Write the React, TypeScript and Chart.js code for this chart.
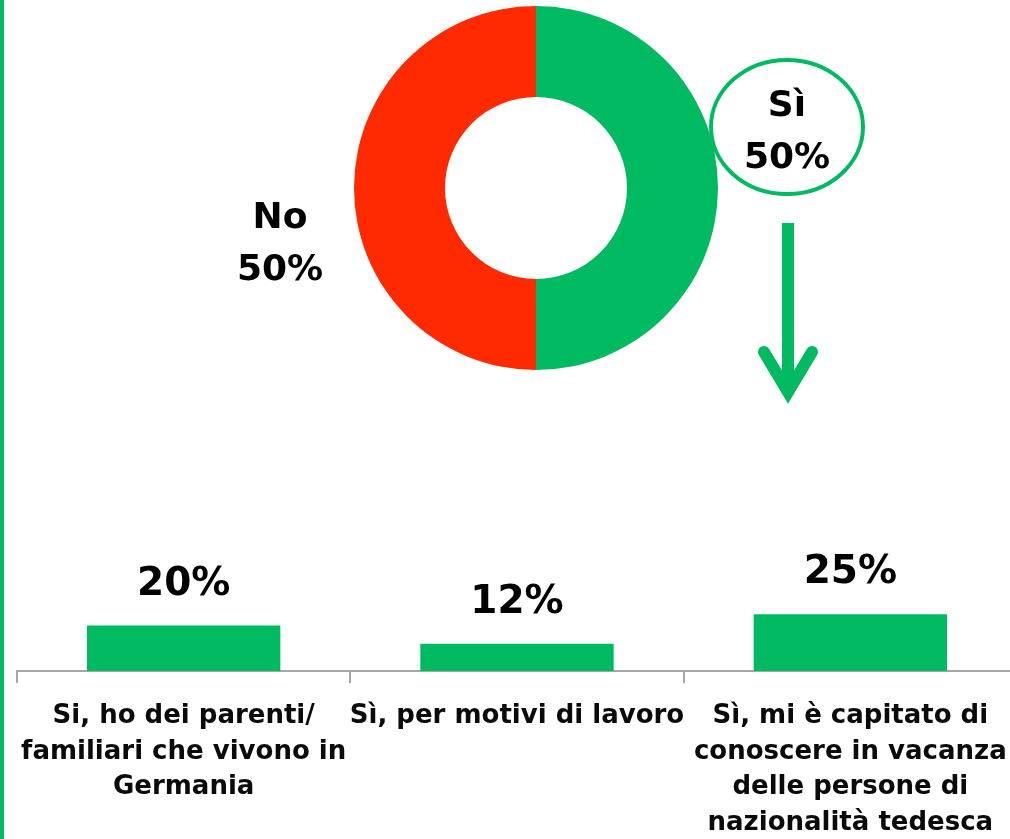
import React, { useEffect, useRef } from "react";
import { Chart, registerables } from "chart.js";

Chart.register(...registerables);

const pieLabels = ["Sì", "No"];
const pieValues = [50, 50];
const barCategories = [
  ["Si, ho dei parenti/", "familiari che vivono in", "Germania"],
  ["Sì, per motivi di lavoro"],
  ["Sì, mi è capitato di", "conoscere in vacanza", "delle persone di", "nazionalità tedesca"],
];
const barValues = [20, 12, 25];

const GREEN = "#00BA61";
const RED = "#FF2A00";
const FONT = "'DejaVu Sans', sans-serif";

export default function App() {
  const pieRef = useRef<HTMLCanvasElement>(null);
  const barRef = useRef<HTMLCanvasElement>(null);

  useEffect(() => {
    const pie = new Chart(pieRef.current!, {
      type: "doughnut",
      data: {
        labels: pieLabels,
        datasets: [
          {
            data: pieValues,
            backgroundColor: [GREEN, RED],
            borderWidth: 0,
          },
        ],
      },
      options: {
        animation: false,
        responsive: false,
        cutout: "50%",
        plugins: { legend: { display: false }, tooltip: { enabled: false } },
        layout: { padding: 0 },
      },
    });

    const labelPlugin = {
      id: "barLabels",
      afterDatasetsDraw(chart: any) {
        const ctx = chart.ctx;
        const meta = chart.getDatasetMeta(0);
        ctx.save();
        ctx.fillStyle = "#000";
        ctx.font = `bold 39px ${FONT}`;
        ctx.textAlign = "center";
        ctx.textBaseline = "middle";
        meta.data.forEach((bar: any, i: number) => {
          ctx.fillText(barValues[i] + "%", bar.x, bar.y - 41);
        });
        ctx.restore();
      },
    };

    const bar = new Chart(barRef.current!, {
      type: "bar",
      data: {
        labels: barCategories,
        datasets: [
          {
            data: barValues,
            backgroundColor: GREEN,
            borderWidth: 0,
            categoryPercentage: 1,
            barPercentage: 0.58,
          },
        ],
      },
      options: {
        animation: false,
        responsive: false,
        layout: { padding: { left: 17, right: 13, top: 44, bottom: 0 } },
        plugins: { legend: { display: false }, tooltip: { enabled: false } },
        scales: {
          y: { display: false, min: 0, max: 100 },
          x: {
            afterFit: (s: any) => {
              s.height = 168;
            },
            border: { display: true, color: "#a6a6a6", width: 2 },
            grid: {
              display: true,
              drawOnChartArea: false,
              drawTicks: true,
              tickLength: 12,
              color: "#a6a6a6",
              lineWidth: 2,
              offset: true,
            },
            ticks: {
              color: "#0a0a0a",
              padding: 16,
              maxRotation: 0,
              autoSkip: false,
              font: { family: FONT, size: 26, weight: "bold", lineHeight: 1.36 },
            },
          },
        },
      },
      plugins: [labelPlugin],
    });

    return () => {
      pie.destroy();
      bar.destroy();
    };
  }, []);

  const bigText: React.CSSProperties = {
    position: "absolute",
    fontFamily: FONT,
    fontWeight: "bold",
    fontSize: 36,
    lineHeight: "52px",
    color: "#000",
    textAlign: "center",
  };

  return (
    <div
      style={{
        position: "fixed",
        left: 0,
        top: 0,
        width: 1010,
        height: 839,
        overflow: "hidden",
        background: "#fff",
      }}
    >
      <div style={{ position: "absolute", left: 0, top: 0, width: 4, height: 839, background: GREEN }} />
      <canvas
        ref={pieRef}
        width={364}
        height={364}
        style={{ position: "absolute", left: 354, top: 6, width: 364, height: 364 }}
      />
      <div style={{ ...bigText, left: 200, top: 190, width: 160 }}>
        {pieLabels[1]}
        <br />
        {pieValues[1]}%
      </div>
      <svg
        width={1010}
        height={839}
        style={{ position: "absolute", left: 0, top: 0 }}
      >
        <ellipse cx={787} cy={127} rx={76} ry={67} fill="#fff" stroke={GREEN} strokeWidth={4} />
        <line x1={788} y1={223} x2={788} y2={388} stroke={GREEN} strokeWidth={12} />
        <polyline
          points="764,352 788,392 812,352"
          fill="none"
          stroke={GREEN}
          strokeWidth={12}
          strokeLinecap="round"
          strokeLinejoin="miter"
        />
      </svg>
      <div style={{ ...bigText, left: 707, top: 78, width: 160 }}>
        {pieLabels[0]}
        <br />
        {pieValues[0]}%
      </div>
      <canvas
        ref={barRef}
        width={1030}
        height={439}
        style={{ position: "absolute", left: 0, top: 400, width: 1030, height: 439 }}
      />
    </div>
  );
}
